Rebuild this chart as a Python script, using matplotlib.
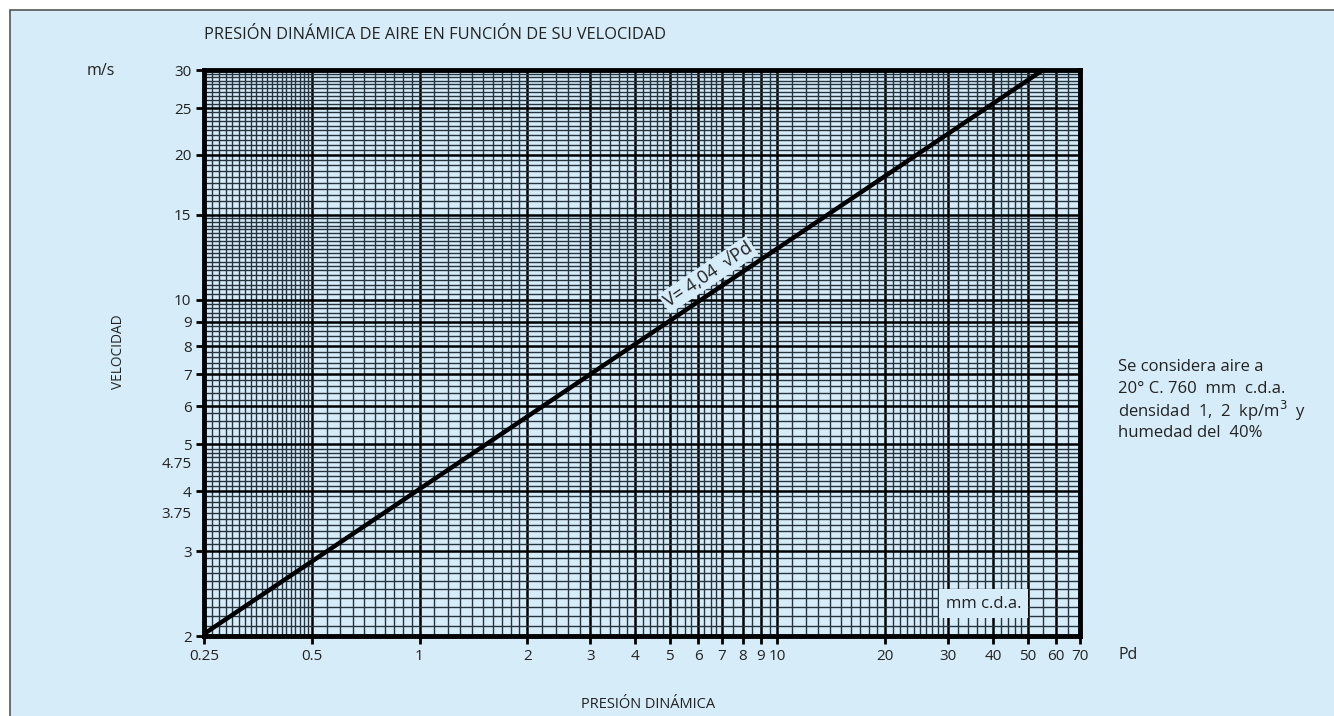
import numpy as np
import matplotlib
matplotlib.use("Agg")
import matplotlib.pyplot as plt
from matplotlib.patches import Rectangle
from matplotlib.transforms import offset_copy

plt.rcParams['font.family'] = ['Open Sans', 'DejaVu Sans']

# ---- data ----
coef = 4.04                       # V = 4.04 * sqrt(Pd)
pd_start, pd_end = 0.25, 55.15    # line drawn across the chart
x_ticks = [0.25, 0.5, 1, 2, 3, 4, 5, 6, 7, 8, 9, 10, 20, 30, 40, 50, 60, 70]
x_labels = ["0.25", "0.5", "1", "2", "3", "4", "5", "6", "7", "8", "9", "10",
            "20", "30", "40", "50", "60", "70"]
y_ticks = [2, 3, 4, 5, 6, 7, 8, 9, 10, 15, 20, 25, 30]
y_extra = [3.75, 4.75]
label_pd = 6.8                    # where the equation label sits
title = "PRESIÓN DINÁMICA DE AIRE EN FUNCIÓN DE SU VELOCIDAD"
note_lines = ["Se considera aire a", "20° C. 760  mm  c.d.a.",
              "densidad  1,  2  kp/m$^{3}$  y", "humedad del  40%"]

# minor grid spec (range start, end, step)
x_minor_spec = [(0.25, 0.5, 0.0125), (0.5, 1, 0.05), (1, 2, 0.1), (2, 5, 0.2),
                (5, 7, 0.25), (7, 10, 0.5), (10, 30, 1), (30, 50, 2),
                (50, 70, 5)]
y_minor_spec = [(2, 5, 0.1), (5, 10, 0.2), (10, 15, 0.25), (15, 30, 0.5)]

BG = "#d6ecf9"
TXT = "#222222"
W, H = 1334, 716
fig = plt.figure(figsize=(W / 100, H / 100), dpi=100, facecolor="white")

# outer panel
fig.patches.append(Rectangle((10 / W, -0.02), 1.05, (H - 10) / H + 0.02,
                             transform=fig.transFigure, facecolor=BG,
                             edgecolor="#555555", lw=1.2, zorder=-10))

L, R, T, B = 204, 1080, 70, 636
ax = fig.add_axes([L / W, 1 - B / H, (R - L) / W, (B - T) / H], zorder=1)
ax.set_facecolor(BG)
ax.set_xscale("log")
ax.set_yscale("log")
ax.set_xlim(0.25, 70)
ax.set_ylim(2, 30)

def build(spec):
    vals = []
    for a, b, s in spec:
        vals.extend(np.arange(a, b - 1e-9, s)[1:].tolist())
    return vals

ax.set_xticks(x_ticks)
ax.set_xticklabels(x_labels)
ax.set_xticks(build(x_minor_spec), minor=True)
ax.set_yticks(y_ticks)
ax.set_yticklabels([str(v) for v in y_ticks])
ax.set_yticks(build(y_minor_spec), minor=True)
ax.yaxis.set_minor_formatter(matplotlib.ticker.NullFormatter())
ax.xaxis.set_minor_formatter(matplotlib.ticker.NullFormatter())

ax.grid(which="minor", color="#26343d", lw=1.0)
ax.grid(which="major", color="#000000", lw=1.8)
ax.set_axisbelow(True)
ax.tick_params(which="major", length=6, width=2, color="black",
               labelsize=11, labelcolor=TXT, pad=3)
ax.tick_params(which="minor", length=0)
for s in ax.spines.values():
    s.set_linewidth(3.5)
    s.set_color("black")

ytr = offset_copy(ax.get_yaxis_transform(), fig=fig, x=-9, y=-7, units="points")
for v in y_extra:
    ax.text(0, v, str(v), transform=ytr, ha="right", va="center",
            fontsize=11, color=TXT)

# the curve
pdv = np.geomspace(pd_start, pd_end, 200)
ax.plot(pdv, coef * np.sqrt(pdv), color="black", lw=3.2, zorder=7,
        solid_capstyle="butt", clip_on=False)

# equation label along the line, offset perpendicular above it
fig.canvas.draw()
p1 = ax.transData.transform((1, coef))
p2 = ax.transData.transform((10, coef * np.sqrt(10)))
ang = np.degrees(np.arctan2(p2[1] - p1[1], p2[0] - p1[0]))
perp = 17 * 0.72  # pixels -> points (dpi 100)
etr = offset_copy(ax.transData, fig=fig,
                  x=-perp * np.sin(np.radians(ang)),
                  y=perp * np.cos(np.radians(ang)), units="points")
ax.text(label_pd, coef * np.sqrt(label_pd), "V= 4,04  √Pd", transform=etr,
        rotation=ang, rotation_mode="anchor",
        ha="center", va="center", fontsize=13, color=TXT, zorder=6,
        bbox=dict(boxstyle="square,pad=0.12", facecolor=BG, edgecolor="none"))

ax.text(0.847, 0.057, "mm c.d.a.", transform=ax.transAxes, ha="left",
        va="center", fontsize=12, color=TXT, zorder=6,
        bbox=dict(boxstyle="square,pad=0.4", facecolor=BG, edgecolor="none"))

# figure texts
fig.text(L / W, 1 - 35 / H, title, ha="left", va="center", fontsize=11.8,
         color=TXT)
fig.text(101 / W, 1 - 71 / H, "m/s", ha="center", va="center", fontsize=11.5,
         color=TXT)
fig.text(119 / W, 1 - 352 / H, "VELOCIDAD", ha="center", va="center",
         rotation=90, fontsize=9.8, color=TXT)
fig.text(1119 / W, 1 - 655 / H, "Pd", ha="left", va="center", fontsize=11.5,
         color=TXT)
fig.text(648 / W, 1 - 705 / H, "PRESIÓN DINÁMICA", ha="center", va="center",
         fontsize=10.5, color=TXT)
for i, t in enumerate(note_lines):
    fig.text(1118 / W, 1 - (367 + 22 * i) / H, t, ha="left", va="center",
             fontsize=12, color=TXT)

fig.savefig("out.png", dpi=100, facecolor="white")
